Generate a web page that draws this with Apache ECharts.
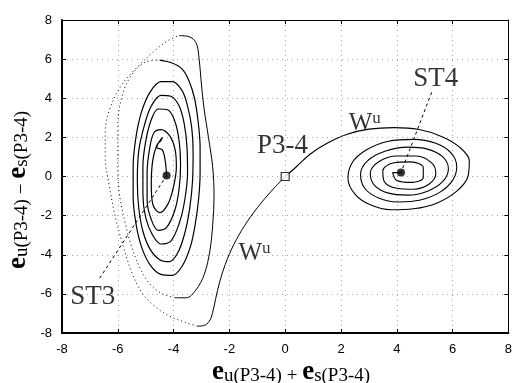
<!DOCTYPE html>
<html><head><meta charset="utf-8">
<script src="https://cdn.jsdelivr.net/npm/echarts@6/dist/echarts.min.js"></script>
<style>html,body{margin:0;padding:0;background:#fff}#c{width:515px;height:383px}</style>
</head><body><div id="c"></div>
<script>
// axis ticks
const ticks = [-8,-6,-4,-2,0,2,4,6,8];
// fixed points
const P34 = [[0,0]];
const ST3 = [[-4.25,0.05]];
const ST4 = [[4.15,0.2]];
// unstable manifold, left branch (solid) from P3-4
const wuLeft = [[0,0],[-0.5,-0.75],[-1.0,-1.6],[-1.45,-2.5],[-1.85,-3.5],[-2.15,-4.5],[-2.35,-5.4],[-2.5,-6.3],[-2.6,-6.95],[-2.72,-7.4],[-2.92,-7.62],[-3.15,-7.65]];
// outer dotted lap round ST3
const st3DotOuter = [[-3.15,-7.65],[-3.6,-7.45],[-4.2,-7.1],[-4.7,-6.6],[-5.15,-5.9],[-5.5,-4.9],[-5.8,-3.6],[-6.1,-2.0],[-6.3,-0.5],[-6.45,1.0],[-6.45,2.3],[-6.25,3.6],[-5.85,4.7],[-5.3,5.6],[-4.7,6.4],[-4.2,6.95],[-3.8,7.2]];
const st3Lap1 = [[-3.8,7.2],[-3.45,7.15],[-3.2,6.85],[-3.1,6.2],[-3.02,5.0],[-2.92,3.6],[-2.75,2.0],[-2.6,0.5],[-2.55,-1.0],[-2.6,-2.5],[-2.7,-3.8],[-2.9,-5.0],[-3.2,-5.8],[-3.55,-6.2],[-3.95,-6.2]];
const st3DotInner = [[-3.95,-6.2],[-4.4,-6.0],[-4.85,-5.5],[-5.2,-4.7],[-5.5,-3.6],[-5.75,-2.3],[-5.95,-0.8],[-6.0,0.8],[-6.0,2.5],[-5.85,4.1],[-5.5,5.2],[-5.0,5.85],[-4.5,5.95]];
const st3Laps = [[-4.5,5.95],[-4.05,5.8],[-3.7,5.5],[-3.45,4.9],[-3.25,4.0],[-3.12,2.8],[-3.05,1.5],[-3.05,0.2],[-3.1,-1.1],[-3.22,-2.4],[-3.4,-3.6],[-3.7,-4.6],[-4.05,-5.05],[-4.45,-5.0],[-4.85,-4.5],[-5.15,-3.6],[-5.35,-2.4],[-5.45,-1.0],[-5.45,0.5],[-5.35,2.0],[-5.15,3.3],[-4.85,4.3],[-4.45,4.85],[-4.05,4.85],[-3.7,4.4],[-3.5,3.6],[-3.35,2.5],[-3.3,1.2],[-3.32,-0.2],[-3.42,-1.6],[-3.6,-2.9],[-3.85,-3.9],[-4.15,-4.35],[-4.5,-4.25],[-4.85,-3.7],[-5.1,-2.8],[-5.25,-1.6],[-5.3,-0.2],[-5.25,1.3],[-5.05,2.6],[-4.8,3.6],[-4.45,4.15],[-4.1,4.1],[-3.8,3.6],[-3.62,2.7],[-3.52,1.5],[-3.5,0.2],[-3.6,-1.2],[-3.8,-2.4],[-4.1,-3.3],[-4.45,-3.45],[-4.75,-3.0],[-5.0,-2.1],[-5.1,-0.9],[-5.1,0.5],[-5.0,1.8],[-4.8,2.9],[-4.55,3.45],[-4.2,3.4],[-3.95,2.8],[-3.8,1.8],[-3.75,0.6],[-3.8,-0.6],[-3.95,-1.7],[-4.25,-2.6],[-4.55,-2.75],[-4.8,-2.2],[-4.95,-1.2],[-4.95,0.2],[-4.85,1.5],[-4.7,2.25],[-4.45,2.4],[-4.15,2.1],[-3.95,1.4],[-3.9,0.5],[-4.0,-0.5],[-4.2,-1.4],[-4.5,-1.85],[-4.75,-1.4],[-4.8,-0.4],[-4.75,0.8],[-4.6,1.6],[-4.45,1.85],[-4.4,2.0],[-4.6,1.5],[-4.4,1.35],[-4.3,0.8],[-4.25,0.05]];
// unstable manifold, right branch spiralling into ST4
const wuRight = [[0,0],[0.4,0.5],[0.9,1.15],[1.5,1.7],[2.2,2.15],[3.0,2.42],[3.9,2.5],[4.8,2.4],[5.6,2.05],[6.25,1.5],[6.6,0.8],[6.55,0.0],[6.15,-0.75],[5.45,-1.35],[4.6,-1.65],[3.8,-1.7],[3.05,-1.45],[2.5,-0.9],[2.25,-0.1],[2.4,0.7],[2.9,1.35],[3.7,1.8],[4.6,1.9],[5.4,1.7],[5.95,1.2],[6.15,0.5],[6.0,-0.2],[5.55,-0.8],[4.85,-1.2],[4.05,-1.3],[3.35,-1.1],[2.85,-0.6],[2.7,0.1],[2.95,0.8],[3.6,1.3],[4.4,1.5],[5.1,1.4],[5.65,1.0],[5.85,0.4],[5.65,-0.25],[5.1,-0.75],[4.4,-0.95],[3.7,-0.85],[3.2,-0.45],[3.05,0.15],[3.35,0.75],[4.0,1.05],[4.7,1.05],[5.25,0.7],[5.4,0.15],[5.15,-0.4],[4.6,-0.65],[4.0,-0.6],[3.55,-0.25],[3.5,0.3],[3.9,0.7],[4.5,0.75],[4.95,0.45],[4.95,-0.05],[4.55,-0.3],[4.0,-0.2],[3.85,0.2],[4.15,0.2]];
// leader lines
const leadST3 = [[-6.65,-5.2],[-4.25,0.05]];
const leadST4 = [[5.25,4.3],[4.15,0.2]];
// text labels
const labelNames = ['ST3','ST4','P3-4','Wu','Wu'];
const labelCoords = [[-6.9,-6.15],[5.4,5.0],[-0.1,1.55],[-1.1,-3.9],[2.85,2.75]];
// axis titles
const xTitle = '{e|e}{s|u(P3-4)}{o| + }{e|e}{s|s(P3-4)}';
const yTitle = '{e|e}{s|u(P3-4)}{o| − }{e|e}{s|s(P3-4)}';

const serif = '"Liberation Serif", "DejaVu Serif", serif';
function line(data, dotted, w) {
  return {type:'line', data, showSymbol:false, smooth:0.35, silent:true,
    lineStyle:{color:'#000', width:w||1, type: dotted ? [1,3] : 'solid'}, z:3};
}
const titleRich = {
  e:{fontFamily:serif, fontWeight:'bold', fontSize:27, fill:'#000', color:'#000', verticalAlign:'bottom', lineHeight:28},
  s:{fontFamily:serif, fontSize:19, fill:'#000', color:'#000', verticalAlign:'bottom', lineHeight:24},
  o:{fontFamily:serif, fontSize:19, fill:'#000', color:'#000', verticalAlign:'bottom', lineHeight:26}
};
const chart = echarts.init(document.getElementById('c'), null, {renderer:'canvas'});
const axisCommon = {type:'value', min:-8, max:8, interval:2};
chart.setOption({
  animation:false,
  backgroundColor:'#fff',
  grid:{left:62, right:5, top:20, bottom:50, containLabel:false},
  graphic:[
    {type:'text', x:291, y:372, style:{text:xTitle, rich:titleRich, align:'center', verticalAlign:'middle'}},
    {type:'text', x:18, y:190, rotation:Math.PI/2, style:{text:yTitle, rich:titleRich, align:'center', verticalAlign:'middle'}}
  ],
  xAxis:[
    Object.assign({}, axisCommon, {position:'bottom',
      axisLine:{show:true, onZero:false, lineStyle:{color:'#000', width:2}},
      axisTick:{inside:true, length:4, lineStyle:{color:'#000'}},
      axisLabel:{color:'#000', fontSize:13, fontFamily:'"Liberation Sans", Arial', margin:10},
      splitLine:{show:true, lineStyle:{color:'#aaa', type:[1,4], width:1}}}),
    Object.assign({}, axisCommon, {position:'top',
      axisLine:{show:true, onZero:false, lineStyle:{color:'#000', width:1}},
      axisTick:{inside:true, length:4, lineStyle:{color:'#000'}},
      axisLabel:{show:false}, splitLine:{show:false}})
  ],
  yAxis:[
    Object.assign({}, axisCommon, {position:'left',
      axisLine:{show:true, onZero:false, lineStyle:{color:'#000', width:2}},
      axisTick:{inside:true, length:4, lineStyle:{color:'#000'}},
      axisLabel:{color:'#000', fontSize:13, fontFamily:'"Liberation Sans", Arial', margin:10},
      splitLine:{show:true, lineStyle:{color:'#aaa', type:[1,4], width:1}}}),
    Object.assign({}, axisCommon, {position:'right',
      axisLine:{show:true, onZero:false, lineStyle:{color:'#000', width:1}},
      axisTick:{inside:true, length:4, lineStyle:{color:'#000'}},
      axisLabel:{show:false}, splitLine:{show:false}})
  ],
  series:[
    line(wuLeft,false,1),
    line(st3DotOuter,true,1),
    line(st3Lap1,false,1),
    line(st3DotInner,true,1),
    line(st3Laps,false,1.2),
    line(wuRight,false,1.1),
    {type:'line', data:leadST3, showSymbol:false, lineStyle:{color:'#000', width:1, type:[3,3]}, z:3},
    {type:'line', data:leadST4, showSymbol:false, lineStyle:{color:'#000', width:1, type:[3,3]}, z:3},
    {type:'scatter', data:ST3.concat(ST4), symbol:'circle', symbolSize:8, itemStyle:{color:'#000'}, z:5},
    {type:'scatter', data:P34, symbol:'rect', symbolSize:8, itemStyle:{color:'#fff', borderColor:'#000', borderWidth:1.2}, z:6},
    {type:'scatter', symbolSize:0, z:7,
      data: labelCoords.map((c,i)=>({value:c, name:labelNames[i]})),
      label:{show:true, position:'inside', color:'#000',
        formatter: p => p.name === 'Wu' ? '{w|W}{u|u}' : '{t|' + p.name + '}',
        rich:{
          t:{fontFamily:serif, fontSize:27, color:'#000'},
          w:{fontFamily:serif, fontSize:25, color:'#000', verticalAlign:'bottom', lineHeight:26},
          u:{fontFamily:serif, fontSize:17, color:'#000', verticalAlign:'top', lineHeight:26}
        }}}
  ]
});
</script></body></html>
